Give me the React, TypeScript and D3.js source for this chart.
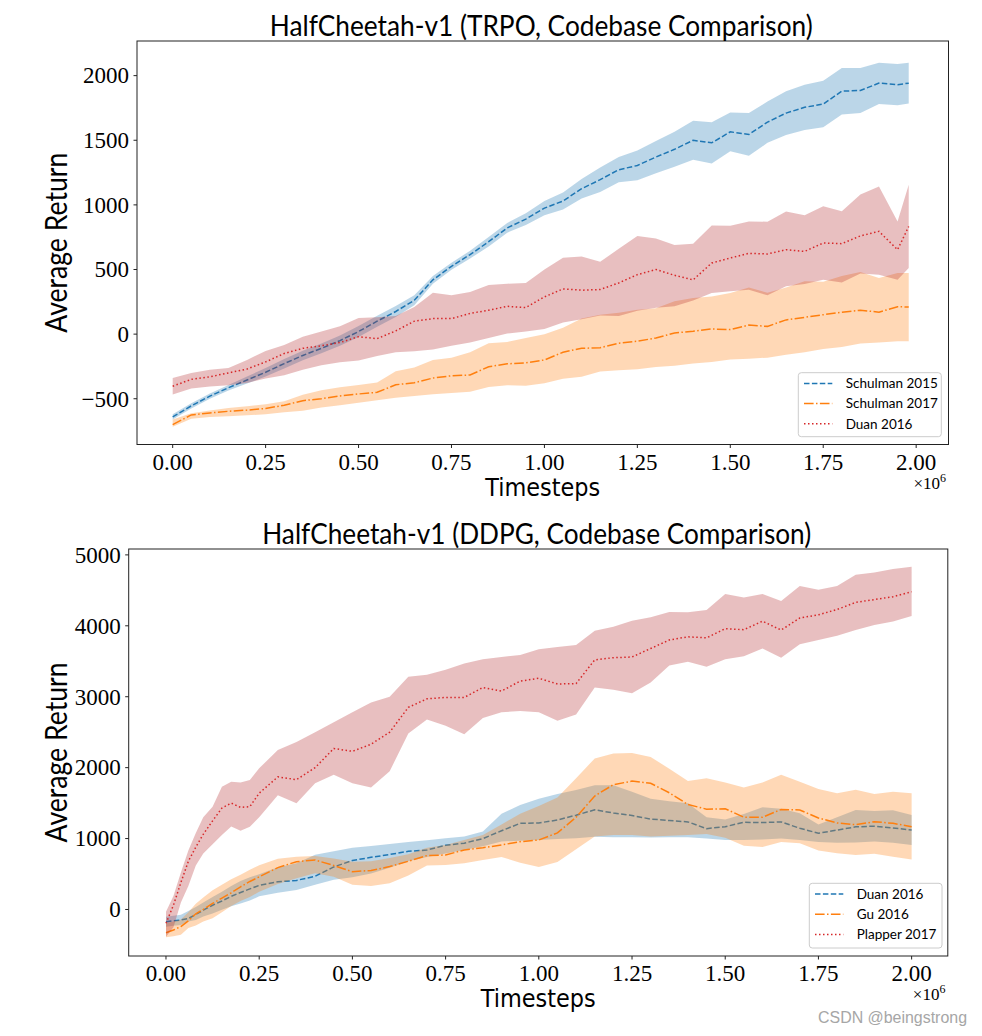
import React from 'react';
import * as d3 from 'd3';

// ---------------- DATA ----------------
// Top panel: HalfCheetah-v1 (TRPO). x in millions of timesteps
const X_TOP = [0, 0.05, 0.1, 0.15, 0.2, 0.25, 0.3, 0.35, 0.4, 0.45, 0.5, 0.55, 0.6, 0.65, 0.7, 0.75, 0.8, 0.85, 0.9, 0.95, 1.0, 1.05, 1.1, 1.15, 1.2, 1.25, 1.3, 1.35, 1.4, 1.45, 1.5, 1.55, 1.6, 1.65, 1.7, 1.75, 1.8, 1.85, 1.9, 1.95, 1.98];

const SCHULMAN15_MEAN = [-640, -555, -480, -415, -355, -295, -228, -165, -110, -50, 20, 100, 175, 262, 420, 525, 615, 715, 822, 890, 975, 1030, 1125, 1195, 1272, 1305, 1370, 1430, 1500, 1480, 1565, 1545, 1640, 1710, 1755, 1780, 1880, 1885, 1942, 1930, 1942];
const SCHULMAN15_HI = [-620, -535, -460, -393, -328, -262, -192, -128, -72, -10, 62, 142, 218, 300, 450, 552, 645, 752, 860, 935, 1030, 1095, 1200, 1290, 1370, 1420, 1495, 1565, 1650, 1640, 1715, 1710, 1800, 1880, 1930, 1960, 2060, 2060, 2100, 2090, 2100];
const SCHULMAN15_LO = [-660, -575, -500, -437, -382, -328, -265, -202, -148, -90, -22, 58, 132, 224, 390, 498, 585, 678, 785, 845, 920, 965, 1050, 1100, 1175, 1190, 1245, 1295, 1350, 1320, 1415, 1380, 1480, 1540, 1580, 1600, 1700, 1710, 1780, 1770, 1785];

const SCHULMAN17_MEAN = [-700, -625, -610, -597, -588, -575, -550, -515, -500, -478, -463, -450, -392, -376, -340, -322, -316, -252, -230, -222, -200, -140, -110, -105, -70, -55, -30, 9, 22, 40, 35, 70, 60, 110, 130, 150, 170, 185, 170, 212, 210];
const SCHULMAN17_HI = [-661, -612, -590, -572, -558, -543, -520, -470, -435, -412, -393, -375, -288, -258, -200, -182, -140, -70, -60, -30, 0, 50, 120, 150, 165, 189, 200, 254, 280, 292, 318, 360, 320, 360, 410, 405, 450, 480, 434, 473, 473];
const SCHULMAN17_LO = [-717, -655, -642, -635, -628, -620, -605, -592, -568, -550, -530, -512, -493, -478, -465, -455, -445, -410, -395, -400, -380, -345, -330, -290, -280, -272, -255, -245, -228, -215, -197, -190, -182, -160, -140, -115, -100, -72, -65, -56, -56];

const DUAN_TRPO_MEAN = [-403, -350, -330, -300, -270, -215, -150, -110, -90, -65, -20, -35, 25, 100, 120, 120, 160, 185, 215, 205, 288, 350, 340, 345, 396, 460, 500, 455, 420, 550, 589, 625, 620, 653, 640, 705, 700, 760, 795, 653, 833];
const DUAN_TRPO_HI = [-339, -300, -275, -262, -200, -130, -85, -20, 20, 60, 125, 130, 140, 210, 320, 300, 325, 380, 390, 396, 500, 590, 600, 560, 660, 760, 740, 690, 700, 840, 839, 872, 870, 949, 920, 990, 950, 1080, 1143, 872, 1156];
const DUAN_TRPO_LO = [-468, -420, -405, -396, -378, -343, -318, -275, -240, -218, -205, -170, -141, -133, -118, -90, -65, -30, 5, 20, 40, 90, 115, 145, 140, 180, 205, 215, 260, 318, 331, 344, 300, 370, 388, 420, 400, 470, 460, 421, 512];

const TOP_Y_TICKS = [-500, 0, 500, 1000, 1500, 2000];
const X_TICKS = [0, 0.25, 0.5, 0.75, 1.0, 1.25, 1.5, 1.75, 2.0];

// Bottom panel: HalfCheetah-v1 (DDPG)
const X_BOT = [0, 0.02, 0.04, 0.06, 0.08, 0.1, 0.125, 0.15, 0.175, 0.2, 0.225, 0.25, 0.3, 0.35, 0.4, 0.45, 0.5, 0.55, 0.6, 0.65, 0.7, 0.75, 0.8, 0.85, 0.9, 0.95, 1.0, 1.05, 1.1, 1.15, 1.2, 1.25, 1.3, 1.35, 1.4, 1.45, 1.5, 1.55, 1.6, 1.65, 1.7, 1.75, 1.8, 1.85, 1.9, 1.95, 2.0];

const DUAN_DDPG_MEAN = [-172, -160, -148, -128, -70, -10, 60, 120, 185, 240, 290, 340, 390, 410, 468, 600, 690, 735, 775, 820, 838, 905, 935, 1000, 1110, 1215, 1220, 1262, 1330, 1405, 1360, 1325, 1275, 1255, 1235, 1140, 1167, 1230, 1225, 1235, 1145, 1075, 1120, 1165, 1175, 1150, 1121];
const DUAN_DDPG_HI = [-101, -90, -75, -20, 35, 100, 175, 250, 330, 400, 455, 495, 595, 651, 770, 820, 870, 895, 922, 950, 975, 1003, 1030, 1100, 1350, 1473, 1560, 1630, 1685, 1750, 1750, 1660, 1560, 1525, 1497, 1300, 1270, 1345, 1440, 1420, 1356, 1200, 1300, 1403, 1390, 1400, 1332];
const DUAN_DDPG_LO = [-242, -230, -218, -170, -150, -100, -55, -5, 45, 85, 125, 185, 235, 275, 350, 420, 455, 508, 590, 680, 740, 790, 840, 890, 960, 970, 980, 995, 1005, 1025, 1020, 1020, 1015, 1018, 1018, 1000, 980, 980, 985, 1000, 980, 950, 940, 945, 960, 940, 909];

const GU_MEAN = [-327, -290, -240, -160, -60, 0, 85, 160, 235, 320, 395, 460, 590, 674, 698, 620, 533, 550, 605, 680, 760, 768, 840, 870, 910, 956, 980, 1080, 1300, 1600, 1760, 1810, 1780, 1645, 1480, 1415, 1420, 1300, 1300, 1410, 1403, 1290, 1220, 1195, 1238, 1215, 1167];
const GU_HI = [-195, -170, -140, -40, 80, 170, 270, 350, 425, 490, 560, 625, 715, 745, 754, 720, 674, 680, 725, 780, 870, 909, 980, 1050, 1200, 1350, 1460, 1580, 1850, 2130, 2200, 2205, 2150, 1985, 1810, 1850, 1790, 1720, 1790, 1900, 1800, 1700, 1640, 1690, 1630, 1660, 1638];
const GU_LO = [-392, -376, -355, -260, -225, -170, -125, -40, 50, 120, 175, 250, 360, 440, 510, 460, 350, 330, 370, 480, 620, 627, 651, 698, 740, 660, 600, 670, 850, 1030, 1050, 1050, 1030, 1040, 1050, 1065, 1010, 900, 880, 950, 935, 830, 792, 768, 785, 745, 705];

const PLAPPER_MEAN = [-195, 60, 380, 680, 880, 1060, 1250, 1430, 1500, 1440, 1450, 1640, 1870, 1830, 2000, 2270, 2230, 2330, 2500, 2850, 2970, 2990, 2990, 3130, 3080, 3220, 3260, 3180, 3185, 3520, 3550, 3560, 3680, 3800, 3845, 3830, 3960, 3945, 4065, 3940, 4110, 4155, 4230, 4330, 4370, 4410, 4480];
const PLAPPER_HI = [-31, 190, 520, 830, 1080, 1300, 1450, 1730, 1800, 1790, 1826, 1990, 2250, 2360, 2500, 2640, 2780, 2920, 3000, 3280, 3310, 3380, 3470, 3530, 3560, 3590, 3670, 3700, 3729, 3930, 3988, 4070, 4120, 4195, 4190, 4223, 4450, 4400, 4450, 4350, 4560, 4510, 4560, 4720, 4750, 4800, 4834];
const PLAPPER_LO = [-383, -250, 100, 330, 620, 790, 920, 1050, 1170, 1110, 1167, 1300, 1610, 1497, 1780, 1900, 1780, 1720, 1950, 2480, 2680, 2590, 2470, 2700, 2780, 2800, 2780, 2660, 2750, 3130, 3100, 3050, 3200, 3440, 3494, 3424, 3530, 3570, 3680, 3550, 3740, 3800, 3860, 3940, 4011, 4060, 4138];

const BOT_Y_TICKS = [0, 1000, 2000, 3000, 4000, 5000];

// ---------------- STYLE ----------------
const BLUE = '#1f77b4';
const ORANGE = '#ff7f0e';
const RED = '#d62728';
const RED_FILL = '#b32a2d';
const DASH = '5.5,2.4';
const DASHDOT = '9.6,2.4,1.5,2.4';
const DOT = '1.5,2.5';
const SANS = 'Lato, "Open Sans", "DejaVu Sans", sans-serif';
const SERIF = '"Liberation Serif", "DejaVu Serif", serif';

type Series = {
  label: string; line: string; fill: string; dash: string;
  x: number[]; mean: number[]; lo: number[]; hi: number[];
};

type PanelProps = {
  box: { left: number; right: number; top: number; bottom: number };
  xDomain: [number, number];
  yDomain: [number, number];
  yTicks: number[];
  series: Series[];
  title: string;
  titleWidth: number;
  legend: { left: number; top: number; width: number; height: number };
};

function Panel({ box, xDomain, yDomain, yTicks, series, title, titleWidth, legend }: PanelProps) {
  const x = d3.scaleLinear().domain(xDomain).range([box.left, box.right]);
  const y = d3.scaleLinear().domain(yDomain).range([box.bottom, box.top]);
  const fmtX = d3.format('.2f');
  const fmtY = d3.format('d');
  const cx = (box.left + box.right) / 2;
  const cy = (box.top + box.bottom) / 2;
  const clipId = `clip-${Math.round(box.top)}`;

  return (
    <g>
      <defs>
        <clipPath id={clipId}>
          <rect x={box.left} y={box.top} width={box.right - box.left} height={box.bottom - box.top} />
        </clipPath>
      </defs>
      <g clipPath={`url(#${clipId})`}>
        {series.map((s) => {
          const idx = d3.range(s.x.length);
          const area = d3.area<number>()
            .x((i) => x(s.x[i]))
            .y0((i) => y(s.lo[i]))
            .y1((i) => y(s.hi[i]));
          const line = d3.line<number>()
            .x((i) => x(s.x[i]))
            .y((i) => y(s.mean[i]));
          return (
            <g key={s.label}>
              <path d={area(idx) || ''} fill={s.fill} fillOpacity={0.3} stroke="none" />
              <path d={line(idx) || ''} fill="none" stroke={s.line} strokeWidth={1.5} strokeDasharray={s.dash} />
            </g>
          );
        })}
      </g>
      {/* spines */}
      <rect x={box.left} y={box.top} width={box.right - box.left} height={box.bottom - box.top}
        fill="none" stroke="#222" strokeWidth={1} />
      {/* x ticks */}
      {X_TICKS.map((t) => (
        <g key={`xt${t}`}>
          <line x1={x(t)} x2={x(t)} y1={box.bottom} y2={box.bottom + 3.5} stroke="#222" strokeWidth={1} />
          <text x={x(t)} y={box.bottom + 25} textAnchor="middle" fontFamily={SERIF} fontSize={23} fill="#000">{fmtX(t)}</text>
        </g>
      ))}
      {/* y ticks */}
      {yTicks.map((t) => (
        <g key={`yt${t}`}>
          <line x1={box.left - 3.5} x2={box.left} y1={y(t)} y2={y(t)} stroke="#222" strokeWidth={1} />
          <text x={box.left - 8} y={y(t)} dy="0.34em" textAnchor="end" fontFamily={SERIF} fontSize={23} fill="#000">{fmtY(t)}</text>
        </g>
      ))}
      {/* offset label */}
      <text x={box.right - 35} y={box.bottom + 44} fontFamily={SERIF} fontSize={17} fill="#000">
        ×10<tspan dy={-7} fontSize={12}>6</tspan>
      </text>
      {/* title */}
      <text x={cx - 1.5} y={box.top - 5.5} textAnchor="middle" fontFamily={SANS} fontSize={29}
        textLength={titleWidth} lengthAdjust="spacingAndGlyphs" fill="#000">{title}</text>
      {/* x label */}
      <text x={cx} y={box.bottom + 51} textAnchor="middle" fontFamily='"DejaVu Sans", sans-serif' fontSize={24}
        textLength={115} lengthAdjust="spacingAndGlyphs" fill="#000">Timesteps</text>
      {/* y label */}
      <text transform={`translate(67,${cy}) rotate(-90)`} textAnchor="middle" fontFamily={SANS} fontSize={30}
        textLength={180} lengthAdjust="spacingAndGlyphs" fill="#000">Average Return</text>
      {/* legend */}
      <g>
        <rect x={legend.left} y={legend.top} width={legend.width} height={legend.height} rx={3}
          fill="#fff" fillOpacity={0.8} stroke="#ccc" strokeWidth={1} />
        {series.map((s, i) => {
          const ry = legend.top + 10.7 + i * 20.2;
          return (
            <g key={`lg${s.label}`}>
              <line x1={legend.left + 5.7} x2={legend.left + 34} y1={ry} y2={ry} stroke={s.line}
                strokeWidth={1.5} strokeDasharray={s.dash} />
              <text x={legend.left + 47.4} y={ry} dy="0.36em" fontFamily={SANS} fontSize={13.5} fill="#000">{s.label}</text>
            </g>
          );
        })}
      </g>
    </g>
  );
}

export default function App() {
  const topSeries: Series[] = [
    { label: 'Schulman 2015', line: BLUE, fill: BLUE, dash: DASH, x: X_TOP, mean: SCHULMAN15_MEAN, lo: SCHULMAN15_LO, hi: SCHULMAN15_HI },
    { label: 'Schulman 2017', line: ORANGE, fill: ORANGE, dash: DASHDOT, x: X_TOP, mean: SCHULMAN17_MEAN, lo: SCHULMAN17_LO, hi: SCHULMAN17_HI },
    { label: 'Duan 2016', line: RED, fill: RED_FILL, dash: DOT, x: X_TOP, mean: DUAN_TRPO_MEAN, lo: DUAN_TRPO_LO, hi: DUAN_TRPO_HI },
  ];
  const botSeries: Series[] = [
    { label: 'Duan 2016', line: BLUE, fill: BLUE, dash: DASH, x: X_BOT, mean: DUAN_DDPG_MEAN, lo: DUAN_DDPG_LO, hi: DUAN_DDPG_HI },
    { label: 'Gu 2016', line: ORANGE, fill: ORANGE, dash: DASHDOT, x: X_BOT, mean: GU_MEAN, lo: GU_LO, hi: GU_HI },
    { label: 'Plapper 2017', line: RED, fill: RED_FILL, dash: DOT, x: X_BOT, mean: PLAPPER_MEAN, lo: PLAPPER_LO, hi: PLAPPER_HI },
  ];

  return (
    <svg width={982} height={1036} viewBox="0 0 982 1036"
      style={{ position: 'absolute', left: 0, top: 0, background: '#fff' }}>
      <rect x={0} y={0} width={982} height={1036} fill="#fff" />
      <Panel
        box={{ left: 137, right: 948.5, top: 41, bottom: 444.5 }}
        xDomain={[-0.096, 2.087]}
        yDomain={[-854, 2268]}
        yTicks={TOP_Y_TICKS}
        series={topSeries}
        title="HalfCheetah-v1 (TRPO, Codebase Comparison)"
        titleWidth={543}
        legend={{ left: 798.3, top: 372.7, width: 143, height: 64 }}
      />
      <Panel
        box={{ left: 128.7, right: 947.8, top: 549, bottom: 956 }}
        xDomain={[-0.1, 2.097]}
        yDomain={[-656, 5083]}
        yTicks={BOT_Y_TICKS}
        series={botSeries}
        title="HalfCheetah-v1 (DDPG, Codebase Comparison)"
        titleWidth={549}
        legend={{ left: 809.3, top: 883.3, width: 132.7, height: 64.7 }}
      />
      <text x={818} y={1023} fontFamily='"Liberation Sans", Arial, sans-serif' fontSize={16} fill="#a6a6a6"
        textLength={149} lengthAdjust="spacingAndGlyphs">CSDN @beingstrong</text>
    </svg>
  );
}
